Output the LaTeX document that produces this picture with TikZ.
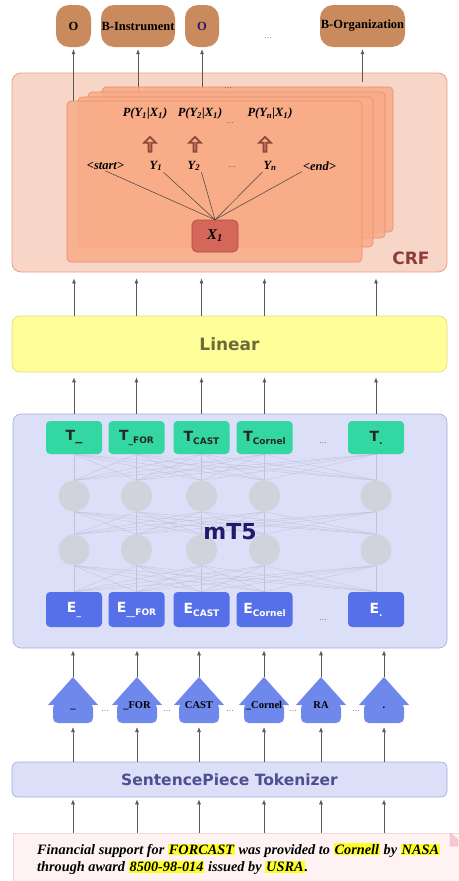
\documentclass[tikz,border=0pt]{standalone}
\usepackage{fontspec}
\setmainfont{Liberation Serif}
\setsansfont{DejaVu Sans}
\usepackage{tikz}
\usetikzlibrary{arrows.meta, positioning, shapes.arrows, calc}
\usepackage{xcolor}
\definecolor{crfback}{RGB}{248,214,199}
\definecolor{crfedge}{RGB}{236,158,128}
\definecolor{crftext}{RGB}{142,59,59}
\definecolor{panelfill}{RGB}{249,172,136}
\definecolor{paneledge}{RGB}{232,140,106}
\definecolor{xfill}{RGB}{212,103,90}
\definecolor{xedge}{RGB}{169,74,64}
\definecolor{arrbrown}{RGB}{140,74,58}
\definecolor{outfill}{RGB}{201,139,94}
\definecolor{navy}{RGB}{42,26,110}
\definecolor{linfill}{RGB}{255,255,153}
\definecolor{linedge}{RGB}{235,215,122}
\definecolor{lintext}{RGB}{110,107,58}
\definecolor{mtfill}{RGB}{220,223,248}
\definecolor{mtedge}{RGB}{163,170,224}
\definecolor{mttext}{RGB}{35,24,106}
\definecolor{tokztext}{RGB}{78,79,143}
\definecolor{tfill}{RGB}{51,215,161}
\definecolor{efill}{RGB}{86,112,233}
\definecolor{piecefill}{RGB}{111,136,236}
\definecolor{hidden}{RGB}{209,210,218}
\definecolor{meshgray}{RGB}{192,195,214}
\definecolor{sentfill}{RGB}{254,242,242}
\definecolor{sentedge}{RGB}{243,214,214}
\definecolor{foldpink}{RGB}{246,200,214}
\definecolor{hilite}{RGB}{255,255,40}

\pgfdeclarelayer{back}
\pgfdeclarelayer{meshes}
\pgfsetlayers{back,meshes,main}

\newcommand{\lowsub}[1]{\raisebox{-3pt}{\fontsize{9}{9}\selectfont #1}}
\newcommand{\hlword}[1]{{\setlength{\fboxsep}{1pt}\colorbox{hilite}{#1}}}

\begin{document}
\begin{tikzpicture}[
    x=1pt, y=-1pt,
    block/.style={rectangle, rounded corners=8pt, minimum width=435pt, align=center},
    panel/.style={rectangle, rounded corners=4pt, fill=panelfill, draw=paneledge,
                  fill opacity=0.85, line width=0.6pt},
    outlbl/.style={rectangle, rounded corners=13pt, fill=outfill, minimum height=42pt,
                   inner sep=0pt, font=\fontsize{12.5}{12.5}\selectfont\bfseries},
    tok/.style={font=\fontsize{12.5}{13}\selectfont\bfseries\itshape, inner sep=1pt},
    tbox/.style={rectangle, rounded corners=4pt, fill=tfill, minimum width=56pt, minimum height=33pt,
                 font=\sffamily\bfseries\fontsize{14}{14}\selectfont, text=black!85},
    ebox/.style={tbox, fill=efill, minimum height=35pt, text=white},
    hid/.style={circle, fill=hidden, minimum size=31pt, inner sep=0pt},
    piece/.style={font=\fontsize{10.5}{12}\selectfont\bfseries, inner sep=0pt, anchor=base},
    dots/.style={font=\fontsize{8}{8}\selectfont, text=black!70, inner sep=0pt},
    uparr/.style={single arrow, shape border rotate=90, draw=arrbrown, line width=1.8pt,
                  minimum height=15pt, minimum width=12pt, single arrow head extend=3pt, inner sep=0pt},
    arr/.style={-{Latex[length=5pt,width=4pt]}, line width=0.7pt, draw=black!65},
    mesh/.style={draw=meshgray, line width=0.35pt},
]
    \useasboundingbox (0,0) rectangle (458,881);

    % CRF layer
    \node[block, fill=crfback, draw=crfedge, line width=0.8pt, minimum height=199pt, rounded corners=9pt] (crf) at (229.5,172.5) {};
    \node[font=\sffamily\bfseries\fontsize{17}{17}\selectfont, text=crftext] (crflbl) at (411,258) {CRF};

    % output tags
    \node[outlbl, minimum width=35pt] (o1) at (73.5,26) {O};
    \node[outlbl, minimum width=74pt] (o2) at (138,26) {B-Instrument};
    \node[outlbl, minimum width=34pt, text=navy] (o3) at (202,26) {O};
    \node[dots] (odots) at (268,38) {\dots};
    \node[outlbl, minimum width=85pt] (o5) at (362.5,26) {B-Organization};

    \draw[arr, shorten >=2pt] (o1.south |- 0,101) -- (o1.south);
    \draw[arr, shorten >=2pt] (o2.south |- 0,92) -- (o2.south);
    \draw[arr, shorten >=2pt] (o3.south |- 0,88) -- (o3.south);
    \draw[arr, shorten >=2pt] ($(o5.south |- crf.north)+(0,9)$) -- (o5.south);

    % stacked CRF panels, back to front
    \node[panel, minimum width=291pt, minimum height=145pt] (pan4) at (247.5,159.5) {};
    \node[panel, minimum width=297pt, minimum height=146pt] (pan3) at (236.5,165) {};
    \node[panel, minimum width=295pt, minimum height=150pt] (pan2) at (225.5,172) {};
    \node[panel, minimum width=295pt, minimum height=161pt] (pan1) at (214.5,181.5) {};
    \node[dots] (pandots) at (228,88) {\dots};

    \node[tok] (py1) at (145,114) {P(Y\textsubscript{1}|X\textsubscript{1})};
    \node[tok] (py2) at (200,114) {P(Y\textsubscript{2}|X\textsubscript{1})};
    \node[tok] (pyn) at (270,114) {P(Y\textsubscript{n}|X\textsubscript{1})};
    \node[dots] (pydots) at (230,123) {\dots};

    \node[uparr] (u1) at (150,145) {};
    \node[uparr] (u2) at (195,145) {};
    \node[uparr] (u3) at (265,145) {};

    \node[tok] (start) at (105.5,166) {<start>};
    \node[tok] (y1) at (156,166) {Y\textsubscript{1}};
    \node[tok] (y2) at (194,166) {Y\textsubscript{2}};
    \node[dots] (ydots) at (232,167) {\dots};
    \node[tok] (yn) at (270,166) {Y\textsubscript{n}};
    \node[tok] (end) at (319.5,166) {<end>};

    \node[rectangle, rounded corners=5pt, fill=xfill, draw=xedge, line width=0.6pt,
          minimum width=46pt, minimum height=32pt,
          font=\fontsize{15}{15}\selectfont\bfseries\itshape] (x1) at (215,236) {X\textsubscript{1}};

    \draw[black!75, line width=0.5pt] (start.south) -- (x1.north);
    \draw[black!75, line width=0.5pt] (y1.south east) -- (x1.north);
    \draw[black!75, line width=0.5pt] (y2.south east) -- (x1.north);
    \draw[black!75, line width=0.5pt] (yn.south west) -- (x1.north);
    \draw[black!75, line width=0.5pt] (end.south west) -- (x1.north);

    % Linear
    \node[block, fill=linfill, draw=linedge, line width=0.6pt, minimum height=56pt,
          font=\sffamily\bfseries\fontsize{17}{17}\selectfont, text=lintext] (lin) at (229.5,344) {Linear};

    % mT5 encoder
    \begin{pgfonlayer}{back}
        \node[block, fill=mtfill, draw=mtedge, line width=0.6pt, minimum width=434pt, minimum height=234pt] (mt) at (230,531) {};
    \end{pgfonlayer}

    \foreach \cx/\tl/\el [count=\i] in {74/{T\_}/{E\lowsub{\_}},
                                        136.5/{T\lowsub{\_FOR}}/{E\lowsub{\_\_FOR}},
                                        201.5/{T\lowsub{CAST}}/{E\lowsub{CAST}},
                                        264.5/{T\lowsub{Cornel}}/{E\lowsub{Cornel}},
                                        376/{T\lowsub{.}}/{E\lowsub{.}}} {
        \node[tbox] (t\i) at (\cx,437.5) {\tl};
        \node[hid, fill opacity=0.92] (ha\i) at (\cx,496) {};
        \node[hid, fill opacity=0.92] (hb\i) at (\cx,550) {};
        \node[ebox] (e\i) at (\cx,609.5) {\el};
    }
    \node[dots] (tdots) at (323,443) {\dots};
    \node[dots] (edots) at (323,620) {\dots};

    \begin{pgfonlayer}{meshes}
        \foreach \i in {1,...,5} {
            \foreach \j in {1,...,5} {
                \draw[mesh] (t\i.south) -- (ha\j.north);
                \draw[mesh] (ha\i.south) -- (hb\j.north);
                \draw[mesh] (hb\i.south) -- (e\j.north);
            }
        }
    \end{pgfonlayer}

    \node[font=\sffamily\bfseries\fontsize{22}{22}\selectfont, text=mttext] (mtlbl) at (230,532) {mT5};

    % sentence pieces
    \foreach \cx/\lbl [count=\i] in {73/{\_}, 137/{\_FOR}, 199/{CAST}, 264/{\_Cornel}, 321/{RA}, 384/{.}} {
        \fill[piecefill, rounded corners=5pt] (\cx-20,703) -- (\cx-20,723) -- (\cx+20,723) -- (\cx+20,703) -- cycle;
        \fill[piecefill] (\cx-25,705) -- (\cx,677) -- (\cx+25,705) -- cycle;
        \node[piece] (p\i) at (\cx,708) {\lbl};
        \coordinate (ptop\i) at (\cx,677);
        \coordinate (pbot\i) at (\cx,723);
    }
    \foreach \dx [count=\i] in {105,167,230,293,356}
        \node[dots] (pd\i) at (\dx,711) {\dots};

    % tokenizer
    \node[block, fill=mtfill, draw=mtedge, line width=0.6pt, minimum height=35pt, rounded corners=6pt,
          font=\sffamily\bfseries\fontsize{15.5}{16}\selectfont, text=tokztext] (tokz) at (229.5,779.5) {SentencePiece Tokenizer};

    % input sentence
    \node[rectangle, fill=sentfill, draw=sentedge, line width=0.6pt, minimum width=450pt, minimum height=54pt] (sent) at (238,860) {};
    \filldraw[fill=foldpink, draw=sentedge!80!red] (450,833) -- (458,840) -- (458,846) -- (450,846) -- cycle;
    \node[anchor=west, inner sep=0pt, align=left, font=\fontsize{14.3}{17.5}\selectfont\bfseries\itshape] (sentxt) at (37,859)
        {Financial support for \hlword{FORCAST} was provided to \hlword{Cornell} by \hlword{NASA}\\
         through award \hlword{8500-98-014} issued by \hlword{USRA}.};

    % arrows between layers
    \foreach \i in {1,...,5} {
        \draw[arr, shorten >=6pt] (t\i |- lin.north) -- (t\i |- crf.south);
        \draw[arr, shorten >=5pt] (t\i |- mt.north) -- (t\i |- lin.south);
    }
    \foreach \i in {1,...,6} {
        \draw[arr, shorten >=2pt] (ptop\i) -- (ptop\i |- mt.south);
        \draw[arr, shorten >=4pt] (pbot\i |- tokz.north) -- (pbot\i);
        \draw[arr, shorten >=2pt] (pbot\i |- sent.north) -- (pbot\i |- tokz.south);
    }
\end{tikzpicture}
\end{document}
